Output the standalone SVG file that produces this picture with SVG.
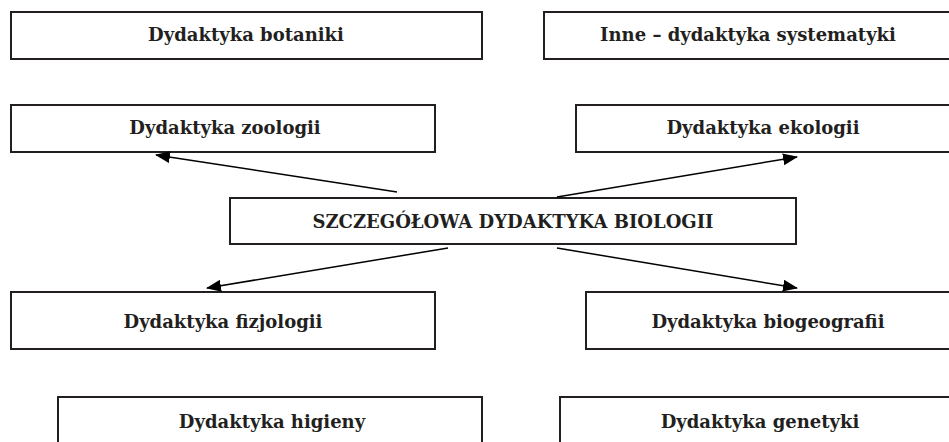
<svg xmlns="http://www.w3.org/2000/svg" width="949" height="442" viewBox="0 0 949 442">
<style>
.box{fill:#fff;stroke:#231f20;stroke-width:2}
.lbl{font-family:"DejaVu Serif","Liberation Serif",serif;font-weight:bold;font-size:18px;fill:#231f20;text-anchor:middle}
.con{stroke:#000;stroke-width:1.5;fill:none}
</style>
<defs>
<marker id="ah" viewBox="0 0 15 12" refX="14" refY="6" markerWidth="15" markerHeight="12" markerUnits="userSpaceOnUse" orient="auto">
<path d="M0,0 L15,6 L0,12 Z" fill="#000"/>
</marker>
</defs>
<rect width="949" height="442" fill="#fff"/>
<g id="n-botaniki"><rect class="box" x="11" y="12" width="471" height="47"/><text class="lbl" x="246" y="41">Dydaktyka botaniki</text></g>
<g id="n-inne"><rect class="box" x="544" y="12" width="410" height="47"/><text class="lbl" x="748" y="41">Inne – dydaktyka systematyki</text></g>
<g id="n-zoologii"><rect class="box" x="11" y="105" width="424" height="47"/><text class="lbl" x="225" y="134">Dydaktyka zoologii</text></g>
<g id="n-ekologii"><rect class="box" x="576" y="105" width="378" height="47"/><text class="lbl" x="763" y="134">Dydaktyka ekologii</text></g>
<g id="n-center"><rect class="box" x="230" y="198" width="566" height="46"/><text class="lbl" x="513" y="228">SZCZEGÓŁOWA DYDAKTYKA BIOLOGII</text></g>
<g id="n-fizjologii"><rect class="box" x="11" y="292" width="424" height="57"/><text class="lbl" x="223" y="328">Dydaktyka fizjologii</text></g>
<g id="n-biogeografii"><rect class="box" x="586" y="292" width="368" height="57"/><text class="lbl" x="768" y="328">Dydaktyka biogeografii</text></g>
<g id="n-higieny"><rect class="box" x="58" y="397" width="424" height="57"/><text class="lbl" x="272" y="428">Dydaktyka higieny</text></g>
<g id="n-genetyki"><rect class="box" x="560" y="397" width="400" height="57"/><text class="lbl" x="760" y="428">Dydaktyka genetyki</text></g>
<g id="connectors">
<line class="con" x1="397" y1="192" x2="156" y2="155" marker-end="url(#ah)"/>
<line class="con" x1="557" y1="197" x2="797" y2="157" marker-end="url(#ah)"/>
<line class="con" x1="448" y1="248" x2="207" y2="288" marker-end="url(#ah)"/>
<line class="con" x1="557" y1="248" x2="797" y2="288" marker-end="url(#ah)"/>
</g>
</svg>
